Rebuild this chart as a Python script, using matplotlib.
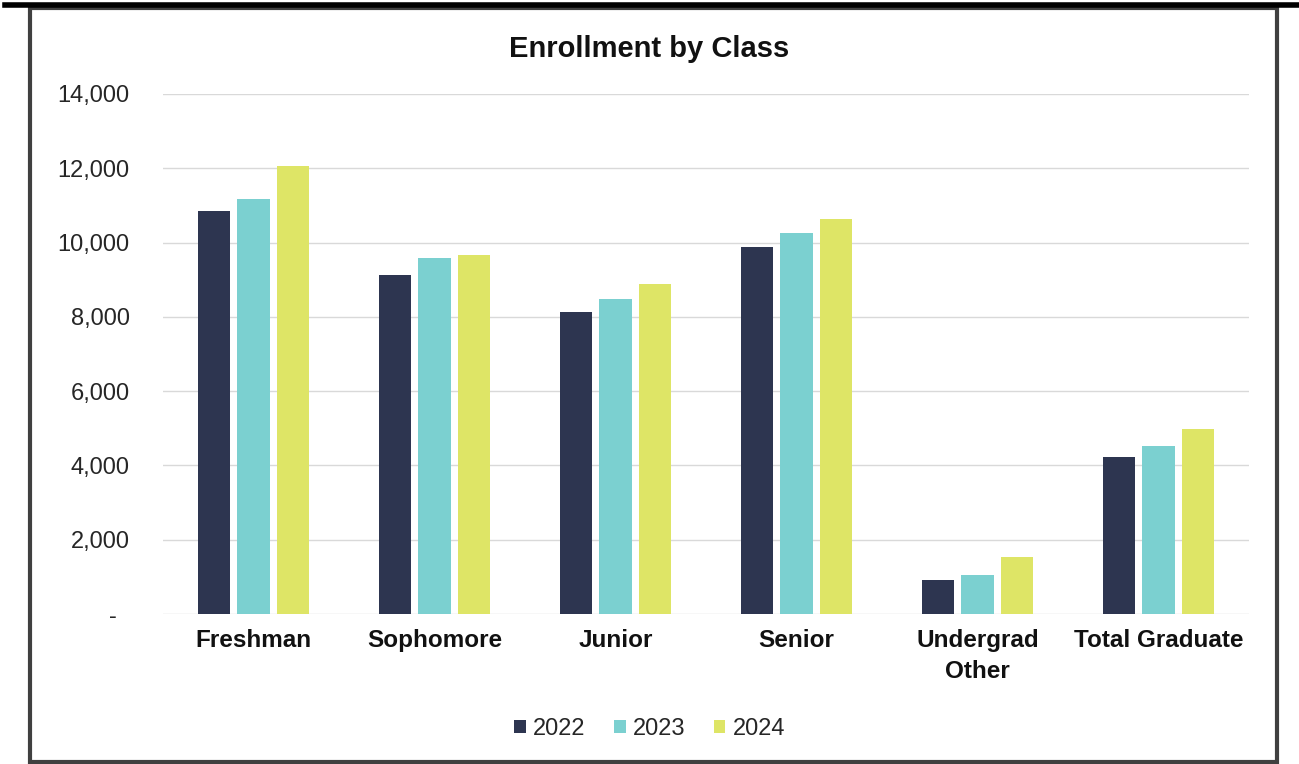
import numpy as np
import matplotlib
matplotlib.use('Agg')
import matplotlib.pyplot as plt
from matplotlib.patches import Patch, Rectangle
from matplotlib.lines import Line2D

plt.rcParams['font.family'] = ['Liberation Sans', 'DejaVu Sans']

# Dados
categorias = ['Freshman', 'Sophomore', 'Junior', 'Senior', 'Undergrad\nOther', 'Total Graduate']
anos = ['2022', '2023', '2024']
v2022 = [10850, 9130, 8130, 9880, 920, 4230]
v2023 = [11170, 9590, 8480, 10260, 1050, 4520]
v2024 = [12060, 9670, 8890, 10640, 1530, 4980]
yticks = [0, 2000, 4000, 6000, 8000, 10000, 12000, 14000]
ytick_labels = ['-  ', '2,000', '4,000', '6,000', '8,000', '10,000', '12,000', '14,000']

cores = ['#2D3550', '#7BD0D0', '#DEE566']
series = [v2022, v2023, v2024]

fig = plt.figure(figsize=(12.99, 7.64), dpi=100)
ax = fig.add_axes([0.1255, 0.1963, 0.836, 0.6807])

x = np.arange(len(categorias))
passo = 0.22
largura = 0.178
for i, (vals, cor, ano) in enumerate(zip(series, cores, anos)):
    ax.bar(x + (i - 1) * passo, vals, width=largura, color=cor, label=ano, zorder=3)

ax.set_xlim(-0.5, len(categorias) - 0.5)
ax.set_ylim(0, 14000)
ax.set_yticks(yticks)
ax.set_yticklabels(ytick_labels, fontsize=17, color='#262626')
ax.set_xticks(x)
ax.set_xticklabels(categorias, fontsize=17.5, fontweight='bold', color='#111111',
                   linespacing=1.4)
ax.tick_params(axis='both', length=0)
ax.tick_params(axis='y', pad=24)
ax.tick_params(axis='x', pad=11)
ax.grid(axis='y', color='#d9d9d9', linewidth=1, zorder=0)
for s in ax.spines.values():
    s.set_visible(False)

fig.text(0.5, 0.936, 'Enrollment by Class', ha='center', va='center',
         fontsize=21, fontweight='bold', color='#111111')

handles = [Patch(facecolor=c, edgecolor='none') for c in cores]
fig.legend(handles, anos, loc='center', bbox_to_anchor=(0.5, 0.046), ncol=3,
           frameon=False, fontsize=17, handlelength=0.5, handleheight=0.5,
           handletextpad=0.3, columnspacing=1.2, labelcolor='#262626')

# Moldura
fig.add_artist(Rectangle((0.0231, 0.0026), 0.9596, 0.9869, transform=fig.transFigure,
                         fill=False, edgecolor='#404040', linewidth=3))
fig.add_artist(Line2D([0.004, 1.0], [0.9935, 0.9935], transform=fig.transFigure,
                      color='black', linewidth=4))

fig.savefig('out.png', dpi=100, facecolor='white')
